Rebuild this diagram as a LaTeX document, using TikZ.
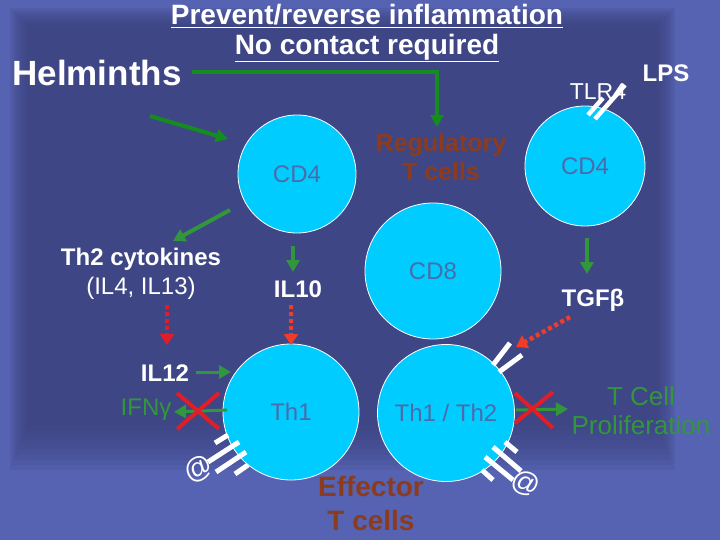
\documentclass[tikz,border=0pt]{standalone}
\usepackage{fontspec}
\setmainfont{Liberation Sans}
\usetikzlibrary{arrows.meta}
\definecolor{bgout}{RGB}{86,98,178}
\definecolor{bgin}{RGB}{56,64,120}
\definecolor{cell}{RGB}{0,204,255}
\definecolor{celltxt}{RGB}{74,108,170}
\definecolor{brownt}{RGB}{140,60,30}
\definecolor{gr}{RGB}{20,140,30}
\definecolor{grt}{RGB}{50,150,60}
\definecolor{redx}{RGB}{225,30,40}
\definecolor{redd}{RGB}{240,60,40}
\tikzset{
 cellc/.style={circle,fill=cell,draw=white,line width=0.8pt,minimum size=#1,inner sep=0pt,font=\fontsize{24}{28}\selectfont,text=celltxt},
 wt/.style={text=white,font=\bfseries\fontsize{24}{28}\selectfont,align=center,inner sep=0pt},
 garr/.style={draw=gr,line width=4pt,-{Triangle[length=12pt,width=13pt]}},
 rarr/.style={draw=redd,line width=4.5pt,dash pattern=on 4pt off 3pt,-{Triangle[length=11pt,width=14pt]}},
 rx/.style={draw=redx,line width=4pt},
 rec/.style={draw=white,line width=5pt},
}
\begin{document}
\begin{tikzpicture}[x=1pt,y=-1pt]
\useasboundingbox (0,0) rectangle (720,540);
\fill[bgout] (0,0) rectangle (720,540);
\foreach \i in {0,...,9}{
 \fill[bgin,opacity=0.12] (10+2*\i,8+2*\i) rectangle (675-2*\i,470-5*\i);
}
% title
\node[wt,font=\bfseries\fontsize{28}{32}\selectfont] (t1) at (367,16) {\underline{Prevent/reverse inflammation}};
\node[wt,font=\bfseries\fontsize{28}{32}\selectfont] (t2) at (367,48) {\underline{No contact required}};
\node[wt,font=\bfseries\fontsize{35}{40}\selectfont] (helm) at (97,73) {Helminths};
% cells
\node[cellc=118pt] (cd4a) at (297,174) {CD4};
\node[cellc=120pt] (cd4b) at (585,166) {CD4};
\node[cellc=136pt] (cd8) at (433,271) {CD8};
\node[cellc=136pt] (th1) at (291,412) {Th1};
\node[cellc=137pt] (th12) at (446,413) {Th1 / Th2};
% texts
\node[wt,text=brownt,font=\bfseries\fontsize{25}{29}\selectfont] (reg) at (441,157) {Regulatory\\T cells};
\node[wt,font=\fontsize{23}{26}\selectfont] (tlr) at (598,92) {TLR4};
\node[wt] (lps) at (666,73) {LPS};
\node[wt,align=center,font=\fontsize{24}{29}\selectfont] (th2c) at (141,274) {\textbf{Th2 cytokines}\\(IL4, IL13)};
\node[wt] (il10) at (298,289) {IL10};
\node[wt] (tgf) at (593,300) {TGFβ};
\node[wt] (il12) at (165,373) {IL12};
\node[wt,text=grt,font=\fontsize{24}{28}\selectfont] (ifn) at (146,410) {IFNγ};
\node[wt,text=grt,font=\fontsize{26}{29}\selectfont] (tcp) at (641,411) {T Cell\\Proliferation};
\node[wt,text=brownt,font=\bfseries\fontsize{28}{34}\selectfont] (eff) at (371,503) {Effector\\T cells};
% green arrows
\coordinate (h1) at (192,72); \coordinate (h2) at (437,72); \coordinate (h3) at (437,127);
\draw[garr] (h1) -- (h2) -- (h3);
\coordinate (a1) at (150,116); \coordinate (a2) at (228,139);
\draw[garr] (a1) -- (a2);
\coordinate (b1) at (230,210); \coordinate (b2) at (173,241);
\draw[garr,draw=grt] (b1) -- (b2);
\coordinate (c1) at (293,246); \coordinate (c2) at (293,272);
\draw[garr,draw=grt] (c1) -- (c2);
\coordinate (d1) at (587,238); \coordinate (d2) at (587,274);
\draw[garr,draw=grt] (d1) -- (d2);
\coordinate (e1) at (196,372); \coordinate (e2) at (231,372);
\draw[garr,draw=grt,line width=3pt] (e1) -- (e2);
\coordinate (f1) at (227,410); \coordinate (f2) at (174,412);
\draw[garr,draw=grt,line width=3pt] (f1) -- (f2);
\coordinate (g1) at (516,410); \coordinate (g2) at (568,409);
\draw[garr,draw=grt,line width=3pt] (g1) -- (g2);
% red dotted arrows
\coordinate (r1) at (167,305); \coordinate (r2) at (167,345);
\draw[rarr,draw=redx] (r1) -- (r2);
\coordinate (s1) at (291,305); \coordinate (s2) at (291,345);
\draw[rarr] (s1) -- (s2);
\coordinate (u1) at (570,317); \coordinate (u2) at (516,347);
\draw[rarr] (u1) -- (u2);
% red crosses
\draw[rx] (177,393) -- (219,429) (177,429) -- (219,393);
\draw[rx] (515,393) -- (553,428) (515,423) -- (553,392);
% receptors
\draw[rec,line width=4.5pt] (588,115) -- (603,98) (595,119) -- (625,85);
\draw[rec] (493,365) -- (510,343) (499,372) -- (522,355);
\draw[rec] (215,443) -- (228,435) (208,462) -- (239,442) (216,472) -- (246,452) (235,474) -- (248,465);
\draw[rec] (505,442) -- (517,452) (493,447) -- (521,471) (485,457) -- (513,480) (482,470) -- (493,480);
\node[wt,font=\fontsize{28}{28}\selectfont,rotate=30] (at1) at (199,469) {@};
\node[wt,font=\fontsize{28}{28}\selectfont,rotate=-20] (at2) at (526,484) {@};
\end{tikzpicture}
\end{document}
